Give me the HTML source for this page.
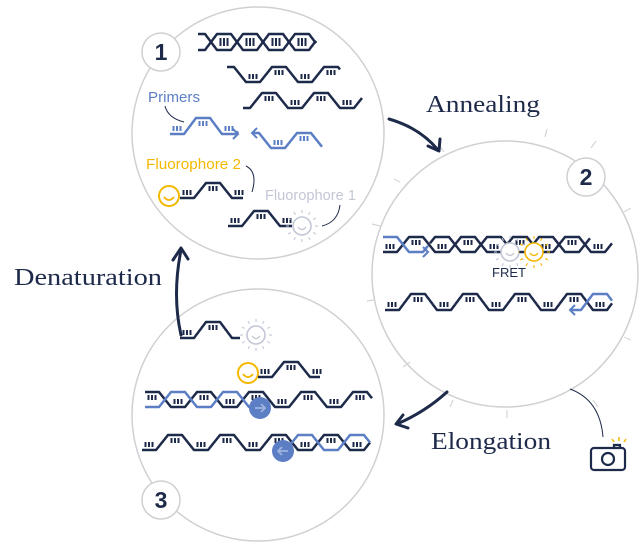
<!DOCTYPE html>
<html><head><meta charset="utf-8"><style>
html,body{margin:0;padding:0;background:#fff;}
svg{display:block;}
</style></head><body>
<svg id="s" width="640" height="560" viewBox="0 0 640 560" xmlns="http://www.w3.org/2000/svg" font-family="Liberation Sans, sans-serif">
<g fill="#fff" stroke="#d0d0d4" stroke-width="1.5">
<circle cx="258" cy="133" r="126"/>
<circle cx="505" cy="274" r="133"/>
<circle cx="258" cy="415" r="126"/>
</g>
<g stroke="#d6d6da" stroke-width="1.2">
<line x1="545" y1="137" x2="547" y2="129"/><line x1="591" y1="148" x2="596" y2="141"/>
<line x1="624" y1="212" x2="631" y2="208"/><line x1="624" y1="337" x2="631" y2="340"/>
<line x1="593" y1="400" x2="598" y2="407"/><line x1="507" y1="410" x2="507" y2="418"/>
<line x1="453" y1="400" x2="450" y2="407"/><line x1="410" y1="362" x2="403" y2="367"/>
<line x1="400" y1="182" x2="394" y2="179"/><line x1="444" y1="152" x2="440" y2="146"/>
<line x1="374" y1="300" x2="367" y2="301"/><line x1="380" y1="226" x2="372" y2="224"/>
</g>
<g fill="#fff" stroke="#d0d0d4" stroke-width="1.5">
<circle cx="161" cy="52" r="19"/><circle cx="586" cy="177" r="19"/><circle cx="161" cy="500" r="19"/>
</g>
<g font-size="23" font-weight="bold" fill="#1e2a4a" text-anchor="middle">
<text x="161" y="60">1</text><text x="586" y="185">2</text><text x="161" y="508">3</text>
</g>
<g font-family="Liberation Serif, serif" font-size="24" fill="#1e2a4a">
<text x="426" y="112" textLength="114" lengthAdjust="spacingAndGlyphs">Annealing</text>
<text x="14" y="285" textLength="148" lengthAdjust="spacingAndGlyphs">Denaturation</text>
<text x="431" y="449" textLength="120" lengthAdjust="spacingAndGlyphs">Elongation</text>
</g>
<g fill="none" stroke="#1e2a4a" stroke-width="3" stroke-linecap="round" stroke-linejoin="round">
<path d="M389 119 Q420 128 438 150"/><path d="M428 146 L439 151 L440 139"/>
<path d="M181 335 Q172 295 181 250"/><path d="M173 260 L181 248 L188 259"/>
<path d="M447 392 Q425 412 397 424"/><path d="M403 415 L396 424 L408 428"/>
</g>
<text x="148" y="102" font-size="14.5" fill="#5b7ec4" textLength="52" lengthAdjust="spacingAndGlyphs">Primers</text>
<text x="146" y="169" font-size="14.5" fill="#f5b800" textLength="95" lengthAdjust="spacingAndGlyphs">Fluorophore 2</text>
<text x="265" y="200" font-size="14.5" fill="#c3c7d6" textLength="91" lengthAdjust="spacingAndGlyphs">Fluorophore 1</text>
<text x="492" y="277" font-size="13" fill="#1e2a4a">FRET</text>
<g fill="none" stroke-width="1">
<path d="M165 106 Q168 118 184 122" stroke="#1e2a4a"/>
<path d="M246 166 Q258 172 252 192" stroke="#1e2a4a"/>
<path d="M340 205 Q338 222 322 226" stroke="#1e2a4a"/>
<path d="M570 389 Q600 400 603 437" stroke="#1e2a4a"/>
</g>
<g fill="none" stroke="#1e2a4a" stroke-width="2.2">
<rect x="591" y="448" width="34" height="22" rx="3"/><circle cx="608" cy="459" r="6"/>
<path d="M614 448 v-3 h6 v3"/>
</g>
<g stroke="#f5b800" stroke-width="1.5"><line x1="619" y1="441" x2="619" y2="437"/><line x1="614" y1="442" x2="612" y2="439"/><line x1="624" y1="442" x2="626" y2="439"/></g>
<g id="dna"></g>
</svg>
<script>
var NS="http://www.w3.org/2000/svg",G=document.getElementById('dna');
var D="#1e2a4a",B="#5b7ec4",P=52;
function el(n,a){var e=document.createElementNS(NS,n);for(var k in a)e.setAttribute(k,a[k]);G.appendChild(e);return e;}
function f(t,yT,yB){t=((t%P)+P)%P;if(t<14)return yB;if(t<26)return yB-(t-14)/12*(yB-yT);if(t<40)return yT;return yT+(t-40)/12*(yB-yT);}
function strand(x0,x1,yT,yB,ph,c,ticks){var p=[];for(var x=x0;x<=x1;x++)p.push(x+","+f(x-x0+ph,yT,yB).toFixed(1));
el('polyline',{points:p.join(' '),fill:'none',stroke:c,'stroke-width':2.5,'stroke-linejoin':'round'});
if(ticks!==false)for(var x=x0+2;x<=x1-2;x++){var t=(((x-x0+ph)%P)+P)%P;if(t==7||t==33){var top=(t==33);for(var i=-1;i<=1;i++){var y1=top?yT+3:yB-8;el('line',{x1:x+i*3.5,y1:y1,x2:x+i*3.5,y2:y1+5,stroke:c,'stroke-width':2});}}}}
function helix(x0,x1,yT,yB,ph,c1){strand(x0,x1,yT,yB,ph,c1,false);strand(x0,x1,yT,yB,ph+26,c1,false);
for(var x=x0+2;x<=x1-2;x++){var t=(((x-x0+ph)%P)+P)%P;if(t==7||t==33){for(var i=-1;i<=1;i++){el('line',{x1:x+i*3.5,y1:yT+4,x2:x+i*3.5,y2:yB-4,stroke:c1,'stroke-width':2});}}}}
function sun(cx,cy,c){el('circle',{cx:cx,cy:cy,r:9,fill:'#fff',stroke:c,'stroke-width':1.6});el('path',{d:'M'+(cx-4)+' '+(cy+1)+' q4 5 8 0',fill:'none',stroke:c,'stroke-width':1.4});
for(var a=0;a<12;a++){var r=a*Math.PI/6;el('line',{x1:cx+13*Math.cos(r),y1:cy+13*Math.sin(r),x2:cx+16*Math.cos(r),y2:cy+16*Math.sin(r),stroke:c,'stroke-width':1.1});}}
function face(cx,cy){el('circle',{cx:cx,cy:cy,r:10,fill:'#fff',stroke:'#f5b800','stroke-width':2});el('path',{d:'M'+(cx-5)+' '+(cy+1)+' q5 6 10 0',fill:'none',stroke:'#f5b800','stroke-width':1.8});}
function arrow(x,y,dir,c){el('path',{d:'M'+(x-5*dir)+' '+(y-5)+' L'+x+' '+y+' L'+(x-5*dir)+' '+(y+5),fill:'none',stroke:c,'stroke-width':2});}
function bub(cx,cy,dir){el('circle',{cx:cx,cy:cy,r:11,fill:B});el('path',{d:'M'+(cx-5*dir)+' '+cy+' h'+(10*dir)+' M'+(cx+1*dir)+' '+(cy-4)+' l'+(4*dir)+' 4 l'+(-4*dir)+' 4',fill:'none',stroke:'#9fb5e0','stroke-width':1.8});}
// circle 1
helix(198,316,34,50,7,D);
strand(227,340,67,82,33,D);
strand(243,362,93,108,7,D);
strand(170,238,118,134,0,B);arrow(238,134,1,B);
strand(252,322,133,148,33,B);arrow(252,133,-1,B);
face(169,196);strand(180,243,183,198,0,D);
strand(228,292,211,226,0,D);sun(302,226,'#c3c7d6');
// circle 2
strand(383,612,237,252,0,D);
strand(430,590,237,252,26+47,D,false);
strand(383,428,237,252,26,B,false);arrow(428,252,1,B);
sun(510,252,'#c3c7d6');sun(534,252,'#f5b800');
el('line',{x1:519,y1:252,x2:524,y2:252,stroke:D,'stroke-width':1.2});
strand(385,612,294,310,0,D);
strand(570,612,294,310,26+185,B,false);arrow(570,310,-1,B);
// circle 3
strand(180,240,322,338,0,D);sun(256,335,'#c3c7d6');
face(248,373);strand(258,320,362,377,0,D);
strand(145,372,392,407,26,D);strand(145,262,392,407,0,B,false);bub(260,408,1);
strand(142,370,435,450,0,D);strand(290,370,435,450,26+148,B,false);bub(283,451,-1);
</script>
</body></html>
